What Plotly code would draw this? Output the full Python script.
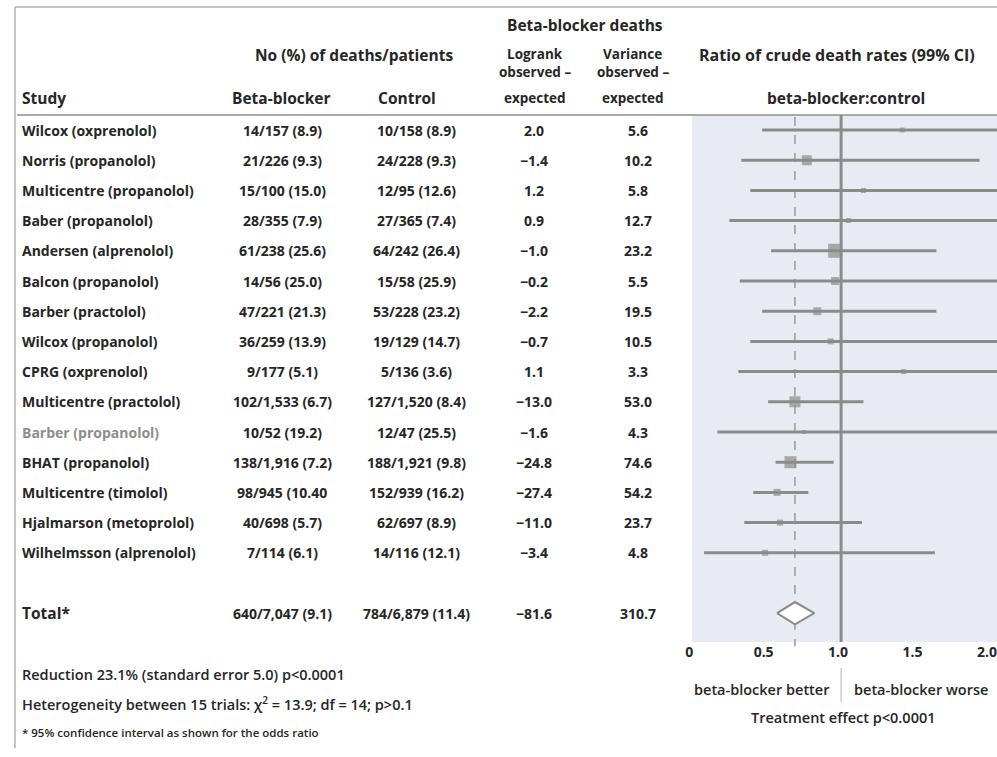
import plotly.graph_objects as go

# ---- table data -------------------------------------------------------------
studies = [
    "Wilcox (oxprenolol)", "Norris (propanolol)", "Multicentre (propanolol)",
    "Baber (propanolol)", "Andersen (alprenolol)", "Balcon (propanolol)",
    "Barber (practolol)", "Wilcox (propanolol)", "CPRG (oxprenolol)",
    "Multicentre (practolol)", "Barber (propanolol)", "BHAT (propanolol)",
    "Multicentre (timolol)", "Hjalmarson (metoprolol)", "Wilhelmsson (alprenolol)",
]
bb_text = [
    "14/157 (8.9)", "21/226 (9.3)", "15/100 (15.0)", "28/355 (7.9)",
    "61/238 (25.6)", "14/56 (25.0)", "47/221 (21.3)", "36/259 (13.9)",
    "9/177 (5.1)", "102/1,533 (6.7)", "10/52 (19.2)", "138/1,916 (7.2)",
    "98/945 (10.40", "40/698 (5.7)", "7/114 (6.1)",
]
ctrl_text = [
    "10/158 (8.9)", "24/228 (9.3)", "12/95 (12.6)", "27/365 (7.4)",
    "64/242 (26.4)", "15/58 (25.9)", "53/228 (23.2)", "19/129 (14.7)",
    "5/136 (3.6)", "127/1,520 (8.4)", "12/47 (25.5)", "188/1,921 (9.8)",
    "152/939 (16.2)", "62/697 (8.9)", "14/116 (12.1)",
]
logrank = [2.0, -1.4, 1.2, 0.9, -1.0, -0.2, -2.2, -0.7, 1.1, -13.0, -1.6,
           -24.8, -27.4, -11.0, -3.4]
variance = [5.6, 10.2, 5.8, 12.7, 23.2, 5.5, 19.5, 10.5, 3.3, 53.0, 4.3,
            74.6, 54.2, 23.7, 4.8]

# ratio of crude death rates with 99% CI
ratio = [1.41, 0.77, 1.15, 1.05, 0.96, 0.96, 0.84, 0.93, 1.42, 0.69, 0.75,
         0.66, 0.57, 0.59, 0.49]
ci_low = [0.47, 0.33, 0.39, 0.25, 0.53, 0.32, 0.47, 0.39, 0.31, 0.51, 0.17,
          0.56, 0.41, 0.35, 0.08]
ci_high = [2.40, 1.93, 2.50, 2.60, 1.64, 2.60, 1.64, 2.50, 3.00, 1.15, 3.00,
           0.95, 0.78, 1.14, 1.63]
box_size = [5, 10, 5, 5, 14, 8, 8, 6, 5, 11, 4, 12, 7, 6, 6]

total_bb = "640/7,047 (9.1)"
total_ctrl = "784/6,879 (11.4)"
total_logrank = -81.6
total_variance = 310.7
total_ratio, total_low, total_high = 0.69, 0.57, 0.82

tick_vals = [0, 0.5, 1.0, 1.5, 2.0]
tick_text = ["0", "0.5", "1.0", "1.5", "2.0"]

# ---- layout helpers ---------------------------------------------------------
W, H = 997, 757
ROW0, ROW_H = 130, 30.2          # pixel centre of first row and row pitch
PANEL_TOP, PANEL_BOT = 115, 642
PANEL_LEFT = 690
TOTAL_ROW = 16

def px(x):
    return x / W

def py(y):
    return 1 - y / H

INK = "#262626"
MARK = "#8b8b8b"
FONT = "Open Sans"

fig = go.Figure()

# confidence intervals
for i in range(len(studies)):
    fig.add_trace(go.Scatter(
        x=[ci_low[i], ci_high[i]], y=[i, i], mode="lines",
        line=dict(color=MARK, width=3), hoverinfo="skip", showlegend=False))

# point estimates
fig.add_trace(go.Scatter(
    x=ratio, y=list(range(len(studies))), mode="markers",
    marker=dict(symbol="square", size=box_size, color=MARK, line=dict(width=0)),
    showlegend=False, hoverinfo="skip"))

# pooled estimate diamond
dh = 0.37
fig.add_trace(go.Scatter(
    x=[total_low, total_ratio, total_high, total_ratio, total_low],
    y=[TOTAL_ROW, TOTAL_ROW - dh, TOTAL_ROW, TOTAL_ROW + dh, TOTAL_ROW],
    mode="lines", fill="toself", fillcolor="white",
    line=dict(color=MARK, width=2), showlegend=False, hoverinfo="skip"))

y_top = (PANEL_TOP - ROW0) / ROW_H
y_bot = (PANEL_BOT - ROW0) / ROW_H

shapes = [
    # reference line at 1.0
    dict(type="line", xref="x", yref="y", x0=1.0, x1=1.0, y0=y_top, y1=y_bot,
         line=dict(color=MARK, width=3), layer="below"),
    # dashed line at pooled estimate
    dict(type="line", xref="x", yref="paper", x0=total_ratio, x1=total_ratio,
         y0=py(PANEL_TOP + 2), y1=py(PANEL_BOT + 4),
         line=dict(color="#9a9a9a", width=1.5, dash="dash"), layer="below"),
    # separator between better / worse
    dict(type="line", xref="x", yref="paper", x0=1.0, x1=1.0,
         y0=py(668), y1=py(702), line=dict(color="#b5b5b5", width=1)),
    # header rule
    dict(type="line", xref="paper", yref="paper", x0=px(10), x1=1,
         y0=py(PANEL_TOP), y1=py(PANEL_TOP), line=dict(color="#8f8f8f", width=1.5)),
    # frame
    dict(type="line", xref="paper", yref="paper", x0=px(8), x1=1,
         y0=py(7), y1=py(7), line=dict(color="#b0b0b0", width=1.5)),
    dict(type="line", xref="paper", yref="paper", x0=px(8), x1=px(8),
         y0=py(7), y1=py(748), line=dict(color="#b0b0b0", width=1.5)),
]

ann = []

def text(x, y, s, anchor="left", size=14, weight=700, color=INK, yref="paper"):
    ann.append(dict(
        x=px(x), y=(py(y) if yref == "paper" else y), xref="paper", yref=yref,
        text=s, showarrow=False, xanchor=anchor, yanchor="middle",
        font=dict(family=FONT, size=size, color=color, weight=weight)))

HS = 15.5
SS = 13.5
# column headers
text(582, 25, "Beta-blocker deaths", "center", size=HS)
text(349, 55, "No (%) of deaths/patients", "center", size=HS)
text(532, 54, "Logrank", "center", size=SS)
text(532, 72, "observed \u2013", "center", size=SS)
text(532, 98, "expected", "center", size=SS)
text(630, 54, "Variance", "center", size=SS)
text(630, 72, "observed \u2013", "center", size=SS)
text(630, 98, "expected", "center", size=SS)
text(836, 55, "Ratio of crude death rates (99% CI)", "center", size=16)
text(845, 98, "beta-blocker:control", "center", size=HS)
text(13, 98, "Study", "left", size=HS)
text(276, 98, "Beta-blocker", "center", size=HS)
text(403, 98, "Control", "center", size=HS)

# study rows
def fmt(v):
    return f"{v:.1f}".replace("-", "\u2212")

for i, name in enumerate(studies):
    c = "#8e8e8e" if i == 10 else INK
    text(13, i, name, "left", color=c, yref="y")
    text(277, i, bb_text[i], "center", yref="y")
    text(412, i, ctrl_text[i], "center", yref="y")
    text(531, i, fmt(logrank[i]), "center", yref="y")
    text(635, i, fmt(variance[i]), "center", yref="y")

text(13, TOTAL_ROW, "Total*", "left", size=HS, yref="y")
text(277, TOTAL_ROW, total_bb, "center", yref="y")
text(412, TOTAL_ROW, total_ctrl, "center", yref="y")
text(531, TOTAL_ROW, fmt(total_logrank), "center", yref="y")
text(635, TOTAL_ROW, fmt(total_variance), "center", yref="y")

# footer notes
text(13, 674, "Reduction 23.1% (standard error 5.0) p<0.0001", "left", size=14.5, weight=600)
text(13, 703, "Heterogeneity between 15 trials: \u03c7<sup>2</sup> = 13.9; df = 14; p>0.1",
     "left", size=14.5, weight=600)
text(13, 732, "* 95% confidence interval as shown for the odds ratio", "left",
     size=11.5, weight=600)

# axis captions
text(760, 689, "beta-blocker better", "center", size=14.5, weight=600)
text(920, 689, "beta-blocker worse", "center", size=14.5, weight=600)
text(842, 717, "Treatment effect p<0.0001", "center", size=14.5, weight=600)

x_max = (W - PANEL_LEFT) / 150.0
fig.update_layout(
    width=W, height=H,
    margin=dict(l=0, r=0, t=0, b=0),
    paper_bgcolor="white",
    plot_bgcolor="#e8ebf2",
    xaxis=dict(domain=[px(PANEL_LEFT), 1], range=[0, x_max],
               tickvals=tick_vals, ticktext=tick_text, showgrid=False,
               zeroline=False, showline=False, ticks="",
               ticklabeloverflow="allow", ticklabelshift=-3,
               tickfont=dict(family=FONT, size=14, color=INK, weight=700),
               fixedrange=True),
    yaxis=dict(domain=[py(PANEL_BOT), py(PANEL_TOP)], range=[y_bot, y_top],
               showgrid=False, zeroline=False, showticklabels=False,
               showline=False, fixedrange=True),
    shapes=shapes,
    annotations=ann,
    showlegend=False,
)

fig.write_html("out.html")
